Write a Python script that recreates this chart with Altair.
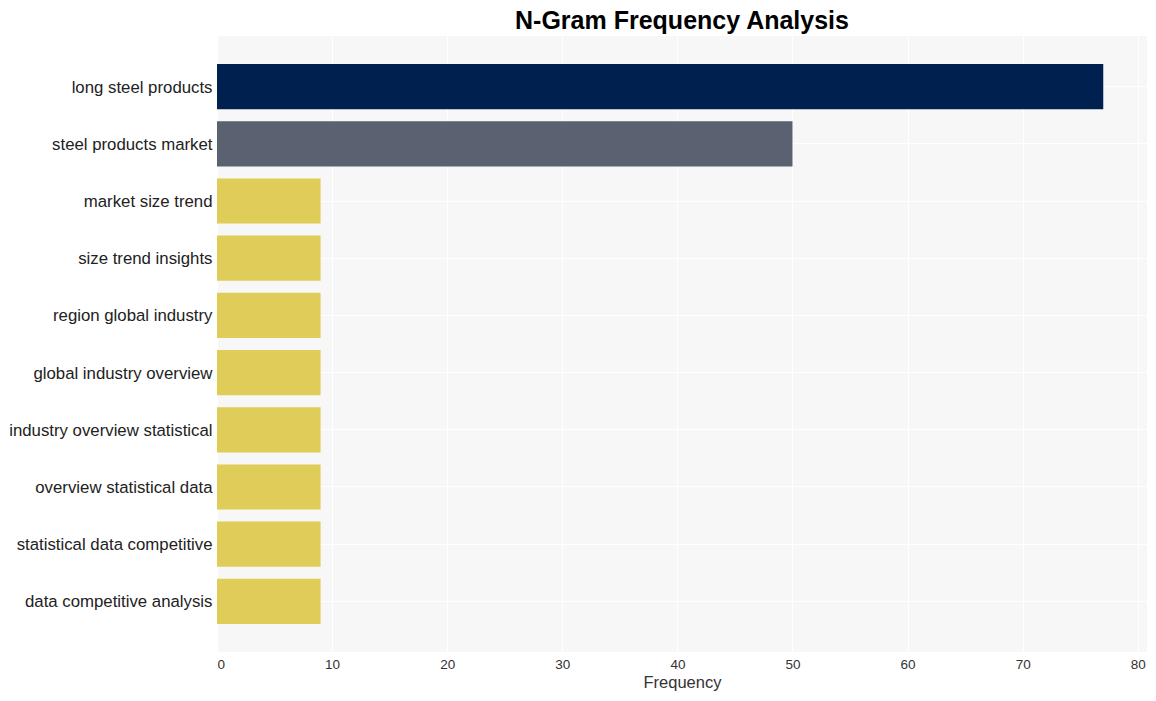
import altair as alt
import pandas as pd

ngrams = [
    "long steel products",
    "steel products market",
    "market size trend",
    "size trend insights",
    "region global industry",
    "global industry overview",
    "industry overview statistical",
    "overview statistical data",
    "statistical data competitive",
    "data competitive analysis",
]
freqs = [77, 50, 9, 9, 9, 9, 9, 9, 9, 9]
colors = ["#00204f", "#5b6170"] + ["#e0cc58"] * 8

df = pd.DataFrame({"ngram": ngrams, "freq": freqs, "color": colors})

chart = (
    alt.Chart(df)
    .mark_bar()
    .encode(
        x=alt.X(
            "freq:Q",
            title="Frequency",
            scale=alt.Scale(domain=[0, 80.8], nice=False),
            axis=alt.Axis(
                values=[0, 10, 20, 30, 40, 50, 60, 70, 80],
                domain=False,
                ticks=False,
                labelFontSize=13.5,
                labelColor="#333333",
                titleFontSize=16.5,
                titleFontWeight="normal",
                titleColor="#333333",
                titlePadding=4,
                labelPadding=5,
                gridColor="#ffffff",
                gridWidth=1,
                labelFont="Liberation Sans",
                titleFont="Liberation Sans",
            ),
        ),
        y=alt.Y(
            "ngram:N",
            sort=ngrams,
            title=None,
            scale=alt.Scale(paddingInner=0.21, paddingOuter=0.49),
            axis=alt.Axis(
                domain=False,
                ticks=False,
                labelFontSize=16.8,
                labelColor="#222222",
                labelPadding=5,
                labelLimit=300,
                labelOffset=1,
                grid=True,
                gridColor="#ffffff",
                labelFont="Liberation Sans",
            ),
        ),
        color=alt.Color("color:N", scale=None, legend=None),
    )
    .properties(
        width=930,
        height=616,
        autosize=alt.AutoSizeParams(type="none"),
        padding={"left": 217, "top": 36, "right": 9, "bottom": 49},
        title=alt.TitleParams(
            "N-Gram Frequency Analysis",
            fontSize=25,
            fontWeight="bold",
            font="Liberation Sans",
            color="#000000",
            anchor="middle",
            offset=2,
        ),
    )
    .configure(background="#ffffff")
    .configure_view(fill="#f7f7f7", strokeWidth=0)
)

chart.save("out.html", embed_options={"renderer": "svg", "actions": False})
